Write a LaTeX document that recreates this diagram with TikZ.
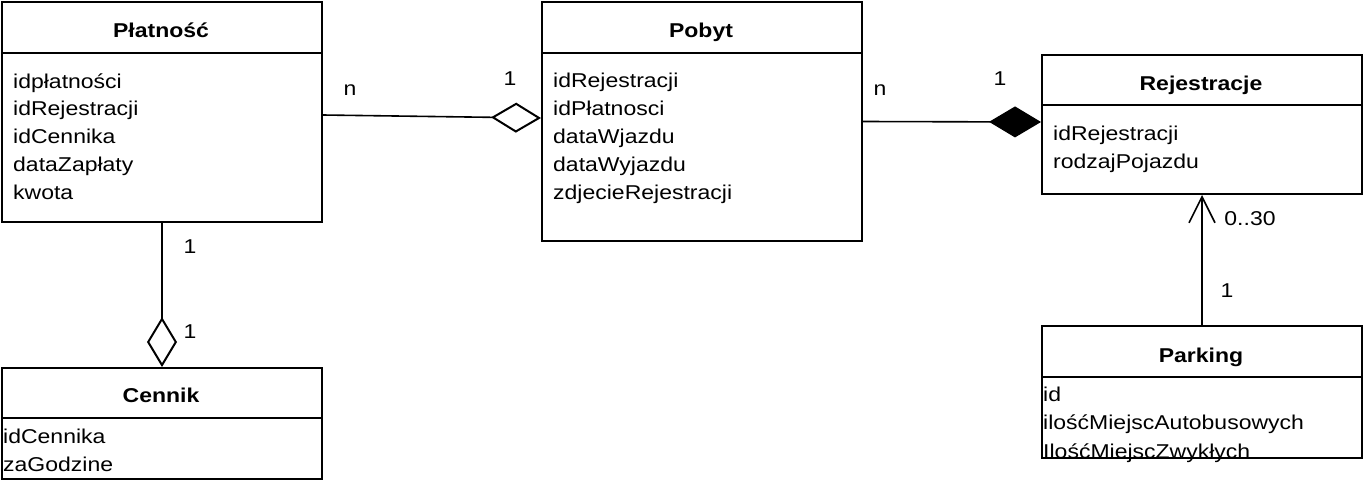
\documentclass[tikz,border=0pt]{standalone}
\usepackage{fontspec}
\setmainfont{Liberation Sans}[FakeStretch=1.15]
\usetikzlibrary{arrows.meta}

\begin{document}
\begin{tikzpicture}
  [x=1pt,y=-1pt,
   classbox/.style={draw,line width=2pt,inner sep=0pt,anchor=north west,minimum width=320pt},
   title/.style={anchor=base,inner sep=0pt,font=\fontsize{20}{24}\selectfont\bfseries},
   attr/.style={anchor=base west,inner sep=0pt,font=\fontsize{20}{24}\selectfont},
   mult/.style={anchor=base,inner sep=0pt,font=\fontsize{20}{24}\selectfont},
   agg/.style={line width=1.6pt,-{Diamond[open,length=50pt,width=30pt,line width=2pt]}},
   comp/.style={line width=1.6pt,-{Diamond[length=52pt,width=31pt]}},
   nav/.style={line width=1.6pt,-{Straight Barb[length=26pt,width=26pt,line width=1.6pt]}}]
  \useasboundingbox (0,0) rectangle (1364,480);
  \node[classbox,minimum height=220pt] (platnosc) at (1,1) {};
  \node[classbox,minimum height=239pt] (pobyt) at (541,1) {};
  \node[classbox,minimum height=139pt] (rej) at (1041,54) {};
  \node[classbox,minimum height=132pt] (parking) at (1041,325) {};
  \node[classbox,minimum height=111pt] (cennik) at (1,367) {};
  \foreach \b/\d in {platnosc/52, pobyt/52, rej/51, parking/52, cennik/51}
    \draw[line width=2pt] ([yshift=-\d pt]\b.north west) -- ([yshift=-\d pt]\b.north east);
  \node[title] (tplatnosc) at (161,37) {Płatność};
  \node[title] (tpobyt) at (701,37) {Pobyt};
  \node[title] (trej) at (1201,90) {Rejestracje};
  \node[title] (tparking) at (1201,362) {Parking};
  \node[title] (tcennik) at (161,402) {Cennik};
  \foreach \t [count=\i] in {idpłatności,idRejestracji,idCennika,dataZapłaty,kwota}
    \node[attr] (pl\i) at (13,60.2+27.8*\i) {\t};
  \foreach \t [count=\i] in {idRejestracji,idPłatnosci,dataWjazdu,dataWyjazdu,zdjecieRejestracji}
    \node[attr] (po\i) at (553,59+28*\i) {\t};
  \foreach \t [count=\i] in {idRejestracji,rodzajPojazdu}
    \node[attr] (re\i) at (1053,112+28*\i) {\t};
  \foreach \t [count=\i] in {id,ilośćMiejscAutobusowych,IlośćMiejscZwykłych}
    \node[attr] (pa\i) at (1043,372.5+28.5*\i) {\t};
  \foreach \t [count=\i] in {idCennika,zaGodzine}
    \node[attr] (ce\i) at (3,415+28*\i) {\t};
  % associations
  \draw[agg] ([yshift=-3pt]platnosc.east) -- ([yshift=3.5pt]pobyt.west);
  \draw[comp] (pobyt.east) -- ([yshift=2.5pt]rej.west);
  \draw[agg] (platnosc.south) -- (cennik.north);
  \draw[nav] (parking.north) -- (rej.south);
  \node[mult] (m1) at (350,95) {n};
  \node[mult] (m2) at (510,85) {1};
  \node[mult] (m3) at (880,95) {n};
  \node[mult] (m4) at (1000,85) {1};
  \node[mult] (m5) at (190,253) {1};
  \node[mult] (m6) at (190,338) {1};
  \node[mult] (m7) at (1250,225) {0..30};
  \node[mult] (m8) at (1227,297) {1};
\end{tikzpicture}
\end{document}
